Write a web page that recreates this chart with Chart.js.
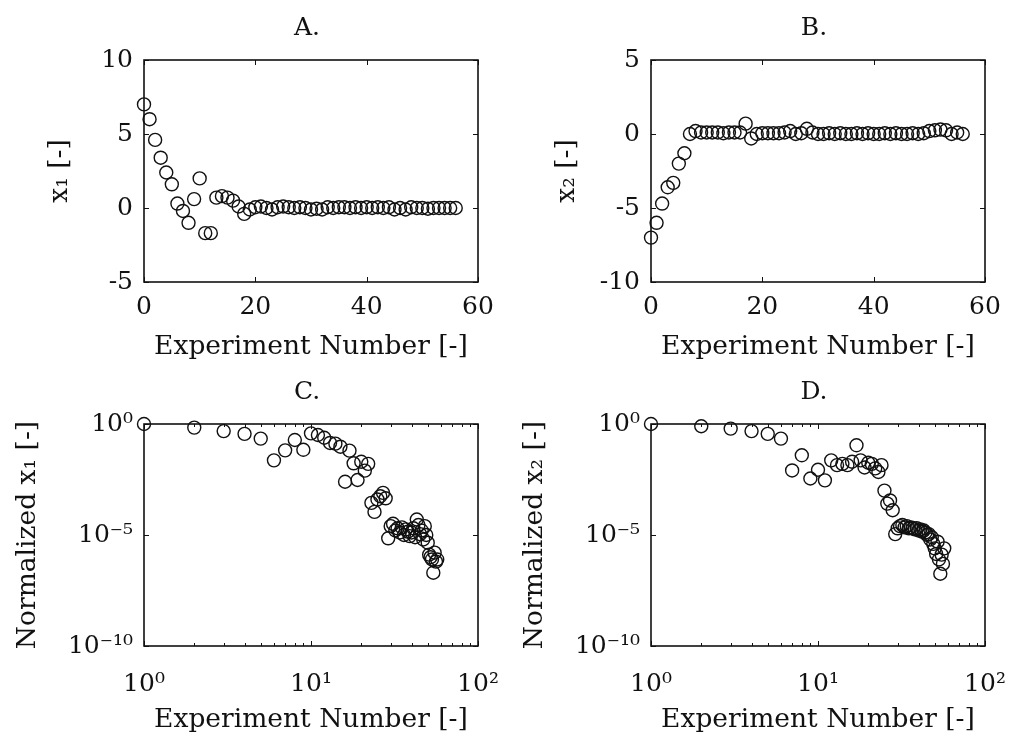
<!DOCTYPE html>
<html>
<head>
<meta charset="utf-8">
<script src="https://cdn.jsdelivr.net/npm/chart.js@4.4.1/dist/chart.umd.min.js"></script>
<style>
  html, body { margin: 0; padding: 0; background: #fff; }
  #grid { position: relative; width: 1014px; height: 746px; }
  .panel { position: absolute; width: 507px; height: 373px; }
</style>
</head>
<body>
<div id="grid">
  <div class="panel" style="left:0;top:0"><canvas id="panelA"></canvas></div>
  <div class="panel" style="left:507px;top:0"><canvas id="panelB"></canvas></div>
  <div class="panel" style="left:0;top:373px"><canvas id="panelC"></canvas></div>
  <div class="panel" style="left:507px;top:373px"><canvas id="panelD"></canvas></div>
</div>
<script>
// experiment index as plotted on the linear axes (0-based) and on the log axes (1-based)
const runIndex = [0, 1, 2, 3, 4, 5, 6, 7, 8, 9, 10, 11, 12, 13, 14, 15, 16, 17, 18, 19,
  20, 21, 22, 23, 24, 25, 26, 27, 28, 29, 30, 31, 32, 33, 34, 35, 36, 37, 38, 39,
  40, 41, 42, 43, 44, 45, 46, 47, 48, 49, 50, 51, 52, 53, 54, 55, 56];
const runNumber = [1, 2, 3, 4, 5, 6, 7, 8, 9, 10, 11, 12, 13, 14, 15, 16, 17, 18, 19, 20,
  21, 22, 23, 24, 25, 26, 27, 28, 29, 30, 31, 32, 33, 34, 35, 36, 37, 38, 39, 40,
  41, 42, 43, 44, 45, 46, 47, 48, 49, 50, 51, 52, 53, 54, 55, 56, 57];

const x1Values = [7.0, 6.0, 4.6, 3.4, 2.4, 1.6, 0.3, -0.2, -1.0, 0.6,
  2.0, -1.7, -1.7, 0.7, 0.8, 0.7, 0.5, 0.1, -0.4, -0.1,
  0.05, 0.1, 0.0, -0.1, 0.05, 0.1, 0.05, 0.0, 0.05, 0.0,
  -0.1, -0.05, -0.1, 0.05, 0.0, 0.05, 0.05, 0.0, 0.05, 0.0,
  0.05, 0.0, 0.05, 0.0, 0.05, -0.1, 0.0, -0.1, 0.05, 0.0,
  0.0, -0.05, 0.0, 0.0, 0.0, 0.0, 0.0];

const x2Values = [-7.0, -6.0, -4.7, -3.6, -3.3, -2.0, -1.3, 0.0, 0.2, 0.1,
  0.1, 0.1, 0.1, 0.05, 0.1, 0.1, 0.1, 0.7, -0.3, 0.0,
  0.05, 0.05, 0.05, 0.05, 0.1, 0.2, 0.0, 0.05, 0.35, 0.1,
  0.0, 0.0, 0.05, 0.0, 0.05, 0.0, 0.0, 0.05, 0.0, 0.05,
  0.0, 0.0, 0.05, 0.0, 0.05, 0.0, 0.0, 0.05, 0.0, 0.05,
  0.2, 0.25, 0.3, 0.25, 0.0, 0.1, 0.0];

const x1Normalized = [1, 0.69, 0.48, 0.36, 0.22, 0.023, 0.065, 0.19, 0.069, 0.38,
  0.32, 0.24, 0.14, 0.13, 0.095, 2.5e-3, 0.063, 0.017, 3.0e-3, 0.020,
  7.9e-3, 0.016, 2.8e-4, 1.1e-4, 4.0e-4, 5.6e-4, 7.9e-4, 4.5e-4, 7.1e-6, 2.5e-5,
  3.2e-5, 1.6e-5, 2.0e-5, 1.3e-5, 2.2e-5, 1.0e-5, 1.8e-5, 1.4e-5, 8.9e-6, 1.3e-5,
  2.0e-5, 7.9e-6, 5.0e-5, 2.8e-5, 1.1e-5, 1.6e-5, 6.3e-6, 2.5e-5, 1.0e-5, 4.5e-6,
  1.3e-6, 1.0e-6, 7.9e-7, 2.0e-7, 1.6e-6, 6.3e-7, 7.9e-7];

const x2Normalized = [1, 0.79, 0.62, 0.48, 0.36, 0.22, 8.1e-3, 0.039, 3.5e-3, 8.7e-3,
  2.9e-3, 0.023, 0.014, 0.016, 0.014, 0.020, 0.11, 0.023, 0.011, 0.018,
  0.016, 0.010, 6.9e-3, 0.014, 1.0e-3, 2.6e-4, 3.6e-4, 1.3e-4, 1.1e-5, 2.0e-5,
  2.5e-5, 2.8e-5, 2.2e-5, 2.5e-5, 2.0e-5, 2.2e-5, 2.0e-5, 1.8e-5, 2.0e-5, 1.6e-5,
  1.8e-5, 1.4e-5, 1.6e-5, 1.3e-5, 1.0e-5, 1.1e-5, 6.3e-6, 7.9e-6, 4.0e-6, 2.5e-6,
  1.4e-6, 5.0e-6, 7.9e-7, 1.8e-7, 1.3e-6, 5.0e-7, 2.5e-6];

const linearXTicks = [0, 20, 40, 60];
const logXTicks = [1, 10, 100];
const logYTicks = [1e-10, 1e-5, 1];
const logXMinor = [2, 3, 4, 5, 6, 7, 8, 9, 20, 30, 40, 50, 60, 70, 80, 90];
const powerLabels = { '1e-10': '10⁻¹⁰', '0.00001': '10⁻⁵', '1': '10⁰', '10': '10¹', '100': '10²' };

const INK = '#111';
const FAMILY = '"DejaVu Serif", serif';
Chart.defaults.font.family = FAMILY;
Chart.defaults.font.size = 25;
Chart.defaults.color = INK;

// box round the plot area, inward ticks on all four sides, panel letter on top
const boxedAxes = {
  id: 'boxedAxes',
  afterDraw(chart, args, opts) {
    const { ctx, chartArea: a, scales } = chart;
    ctx.save();
    ctx.strokeStyle = INK;
    ctx.lineWidth = 1;
    ctx.beginPath();
    scales.x.ticks.forEach(t => {
      const px = Math.round(scales.x.getPixelForValue(t.value)) + 0.5;
      ctx.moveTo(px, a.bottom); ctx.lineTo(px, a.bottom - 5);
      ctx.moveTo(px, a.top); ctx.lineTo(px, a.top + 5);
    });
    (opts.minor || []).forEach(v => {
      const px = Math.round(scales.x.getPixelForValue(v)) + 0.5;
      ctx.moveTo(px, a.bottom); ctx.lineTo(px, a.bottom - 3);
      ctx.moveTo(px, a.top); ctx.lineTo(px, a.top + 3);
    });
    scales.y.ticks.forEach(t => {
      const py = Math.round(scales.y.getPixelForValue(t.value)) + 0.5;
      ctx.moveTo(a.left, py); ctx.lineTo(a.left + 5, py);
      ctx.moveTo(a.right, py); ctx.lineTo(a.right - 5, py);
    });
    ctx.stroke();
    ctx.lineWidth = 1.6;
    ctx.strokeRect(a.left, a.top, a.right - a.left, a.bottom - a.top);
    ctx.font = '25px ' + FAMILY;
    ctx.fillStyle = INK;
    ctx.textAlign = 'center';
    ctx.textBaseline = 'middle';
    ctx.fillText(opts.title, (a.left + a.right) / 2 - 4, a.top - 32);
    ctx.restore();
  }
};

function points(xs, ys) {
  return xs.map((x, i) => ({ x: x, y: ys[i] }));
}

function makePanel(id, letter, data, xAxis, yAxis, yTitle, log) {
  const top = log ? 51 : 60;
  new Chart(document.getElementById(id), {
    type: 'scatter',
    data: {
      datasets: [{
        data: data,
        pointStyle: 'circle',
        pointRadius: 6.5,
        pointHoverRadius: 6.5,
        borderWidth: 1.4,
        borderColor: INK,
        backgroundColor: 'rgba(0,0,0,0)',
        clip: false
      }]
    },
    options: {
      responsive: true,
      maintainAspectRatio: false,
      animation: false,
      events: [],
      layout: { padding: { left: 0, right: 29, top: top, bottom: 0 } },
      plugins: {
        legend: { display: false },
        tooltip: { enabled: false },
        boxedAxes: { title: letter, minor: log ? logXMinor : [] }
      },
      scales: {
        x: Object.assign({
          grid: { display: false, drawTicks: false },
          border: { display: false },
          title: { display: true, text: 'Experiment Number [-]', font: { size: 26.5 }, padding: { top: 0, bottom: 10 } },
          afterFit: s => { s.height = log ? 100 : 91; s.paddingLeft = 0; s.paddingRight = 0; }
        }, xAxis),
        y: Object.assign({
          grid: { display: false, drawTicks: false },
          border: { display: false },
          title: { display: true, text: yTitle, font: { size: 26.5 }, padding: { top: log ? 12 : 44, bottom: 0 } },
          afterFit: s => { s.width = 144; s.paddingTop = 0; s.paddingBottom = 0; }
        }, yAxis)
      }
    },
    plugins: [boxedAxes]
  });
}

function linearX() {
  return {
    type: 'linear', min: 0, max: 60,
    afterBuildTicks: s => { s.ticks = linearXTicks.map(v => ({ value: v })); },
    ticks: { padding: 10, maxRotation: 0 }
  };
}

function linearY(min, max) {
  return {
    type: 'linear', min: min, max: max,
    ticks: { stepSize: 5, padding: 11 }
  };
}

function logX() {
  return {
    type: 'logarithmic', min: 1, max: 100,
    afterBuildTicks: s => { s.ticks = logXTicks.map(v => ({ value: v })); },
    ticks: { padding: 23, maxRotation: 0, autoSkip: false, callback: v => powerLabels[String(v)] }
  };
}

function logY() {
  return {
    type: 'logarithmic', min: 1e-10, max: 1,
    afterBuildTicks: s => { s.ticks = logYTicks.map(v => ({ value: v })); },
    ticks: { padding: 11, autoSkip: false, callback: v => powerLabels[String(v)] }
  };
}

makePanel('panelA', 'A.', points(runIndex, x1Values), linearX(), linearY(-5, 10), 'x₁ [-]', false);
makePanel('panelB', 'B.', points(runIndex, x2Values), linearX(), linearY(-10, 5), 'x₂ [-]', false);
makePanel('panelC', 'C.', points(runNumber, x1Normalized), logX(), logY(), 'Normalized x₁ [-]', true);
makePanel('panelD', 'D.', points(runNumber, x2Normalized), logX(), logY(), 'Normalized x₂ [-]', true);
</script>
</body>
</html>
